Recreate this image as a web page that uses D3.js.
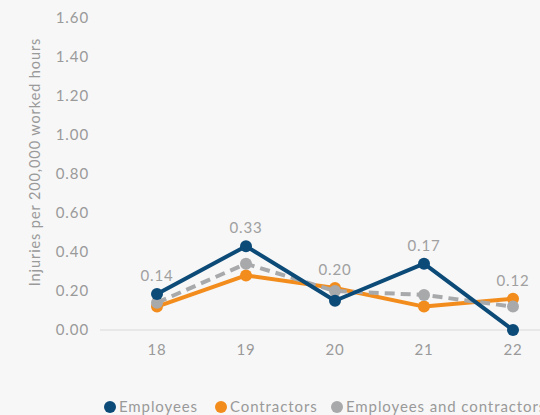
<!DOCTYPE html>
<html>
<head>
<meta charset="utf-8">
<script src="https://cdn.jsdelivr.net/npm/d3@7"></script>
<style>
  body { margin: 0; background: #f7f7f7; }
  svg { display: block; font-family: Lato, "Open Sans", sans-serif; letter-spacing: 0.9px; }
</style>
</head>
<body>
<div id="chart"></div>
<script>
const years = ["18", "19", "20", "21", "22"];
const employees = [0.185, 0.43, 0.15, 0.34, 0.0];
const contractors = [0.12, 0.28, 0.215, 0.12, 0.16];
const combined = [0.14, 0.34, 0.20, 0.18, 0.12];
const combinedLabels = ["0.14", "0.33", "0.20", "0.17", "0.12"];
const yTicks = [0, 0.2, 0.4, 0.6, 0.8, 1.0, 1.2, 1.4, 1.6];

const width = 540, height = 415;

const svg = d3.select("#chart")
  .append("svg")
  .attr("width", width)
  .attr("height", height);

const x = d3.scalePoint().domain(years).range([157, 513]);
const y = d3.scaleLinear().domain([0, 1.6]).range([330, 18]);

// y tick labels
svg.selectAll(".ytick")
  .data(yTicks)
  .enter()
  .append("text")
  .attr("x", 89)
  .attr("y", d => y(d))
  .attr("dy", "0.35em")
  .attr("text-anchor", "end")
  .attr("font-size", "15px")
  .attr("fill", "#9a9a9a")
  .text(d => d.toFixed(2));

// axis title
svg.append("text")
  .attr("transform", "translate(40, 162) rotate(-90)")
  .attr("text-anchor", "middle")
  .attr("font-size", "14.5px")
  .attr("fill", "#9a9a9a")
  .text("Injuries per 200,000 worked hours");

// baseline
svg.append("line")
  .attr("x1", 100).attr("x2", width)
  .attr("y1", y(0)).attr("y2", y(0))
  .attr("stroke", "#d9d9d9")
  .attr("stroke-width", 1);

// x labels
svg.selectAll(".xtick")
  .data(years)
  .enter()
  .append("text")
  .attr("x", d => x(d))
  .attr("y", 355)
  .attr("text-anchor", "middle")
  .attr("font-size", "15px")
  .attr("fill", "#9a9a9a")
  .text(d => d);

const series = [
  { name: "Contractors", values: contractors, color: "#f28c1c", dash: null },
  { name: "Employees and contractors", values: combined, color: "#a8a9ab", dash: "10,6" },
  { name: "Employees", values: employees, color: "#0c4a78", dash: null }
];

const line = d3.line()
  .x((d, i) => x(years[i]))
  .y(d => y(d));

series.forEach(s => {
  svg.append("path")
    .datum(s.values)
    .attr("d", line)
    .attr("fill", "none")
    .attr("stroke", s.color)
    .attr("stroke-width", 4)
    .attr("stroke-dasharray", s.dash)
    .attr("stroke-linejoin", "round");

  svg.selectAll(null)
    .data(s.values)
    .enter()
    .append("circle")
    .attr("cx", (d, i) => x(years[i]))
    .attr("cy", d => y(d))
    .attr("r", 6)
    .attr("fill", s.color);
});

// value labels above highest point
svg.selectAll(".vlabel")
  .data(combinedLabels)
  .enter()
  .append("text")
  .attr("x", (d, i) => x(years[i]))
  .attr("y", (d, i) => y(Math.max(employees[i], contractors[i], combined[i])) - 18)
  .attr("dy", "0.35em")
  .attr("text-anchor", "middle")
  .attr("font-size", "15px")
  .attr("fill", "#a0a0a0")
  .text(d => d);

// legend
const legend = [
  { name: "Employees", color: "#0c4a78", x: 110 },
  { name: "Contractors", color: "#f28c1c", x: 221 },
  { name: "Employees and contractors", color: "#a8a9ab", x: 337 }
];

legend.forEach(l => {
  svg.append("circle")
    .attr("cx", l.x).attr("cy", 407).attr("r", 6)
    .attr("fill", l.color);
  svg.append("text")
    .attr("x", l.x + 9)
    .attr("y", 407)
    .attr("dy", "0.35em")
    .attr("font-size", "15px")
    .attr("fill", "#9a9a9a")
    .text(l.name);
});
</script>
</body>
</html>
